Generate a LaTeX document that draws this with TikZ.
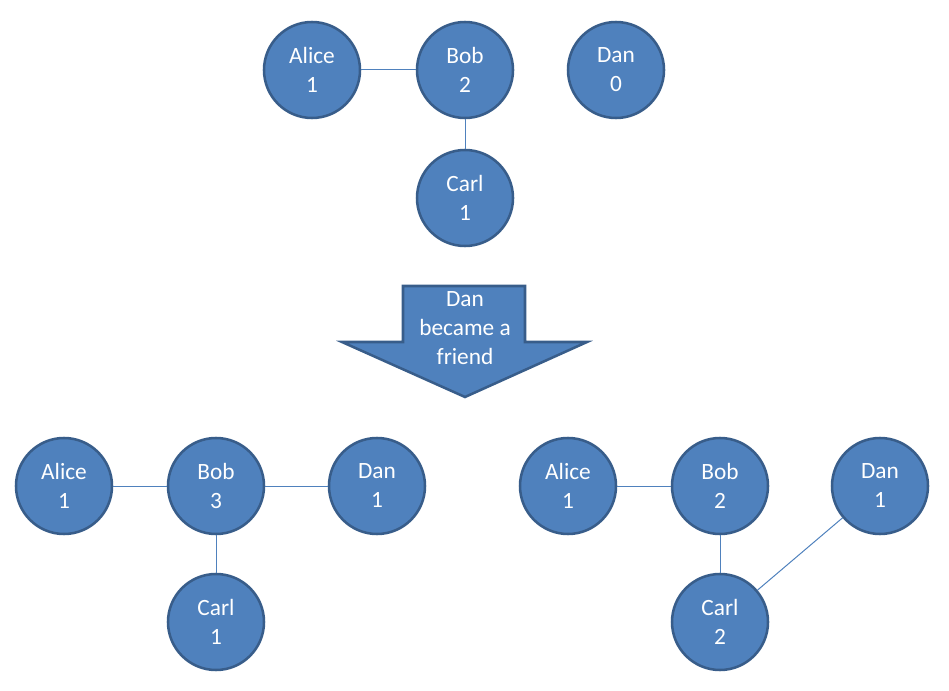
\documentclass[tikz,border=0pt]{standalone}
\usepackage{fontspec}
\setmainfont{Carlito}
\begin{document}
\begin{tikzpicture}[x=0.75pt,y=-0.75pt,
  person/.style={circle, fill=nodefill, draw=nodeborder, line width=1.9pt,
    minimum size=72pt, inner sep=0pt, text=white, font=\fontsize{17.5}{21.75}\selectfont, align=center},
  link/.style={draw=nodefill, line width=0.75pt}]
\definecolor{nodefill}{HTML}{4F81BD}
\definecolor{nodeborder}{HTML}{385D8A}
\useasboundingbox (0,0) rectangle (949,691);
% top
\node[person] (a1) at (312,70) {Alice\\1};
\node[person] (b1) at (465,70) {Bob\\2};
\node[person] (d1) at (616,70) {Dan\\0};
\node[person] (c1) at (465,198) {Carl\\1};
\draw[link] (a1) -- (b1);
\draw[link] (b1) -- (c1);
% arrow
\draw[fill=nodefill, draw=nodeborder, line width=1.9pt, line join=miter]
  (403,286) -- (525,286) -- (525,342) -- (587,342) -- (465,397) -- (342,342) -- (403,342) -- cycle;
\node[text=white, font=\fontsize{17.5}{21.5}\selectfont, align=center] (lbl) at (465,328) {Dan\\became a\\friend};
% bottom left
\node[person] (a2) at (64,486) {Alice\\1};
\node[person] (b2) at (216,486) {Bob\\3};
\node[person] (d2) at (377,486) {Dan\\1};
\node[person] (c2) at (216,622) {Carl\\1};
\draw[link] (a2) -- (b2);
\draw[link] (b2) -- (d2);
\draw[link] (b2) -- (c2);
% bottom right
\node[person] (a3) at (568,486) {Alice\\1};
\node[person] (b3) at (720,486) {Bob\\2};
\node[person] (d3) at (880,486) {Dan\\1};
\node[person] (c3) at (720,622) {Carl\\2};
\draw[link] (a3) -- (b3);
\draw[link] (b3) -- (c3);
\draw[link] (c3) -- (d3);
\end{tikzpicture}
\end{document}
